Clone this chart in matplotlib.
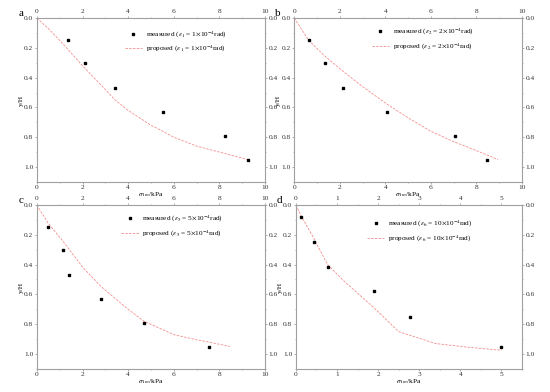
import matplotlib
matplotlib.use("Agg")
import matplotlib.pyplot as plt
from matplotlib.ticker import MultipleLocator

plt.rcParams['font.family'] = ['Liberation Serif', 'DejaVu Serif']
plt.rcParams['mathtext.fontset'] = 'stix'

# measured data
a_meas_x = [1.36, 2.12, 3.43, 5.52, 8.23, 9.25]
a_meas_y = [0.15, 0.30, 0.47, 0.63, 0.79, 0.95]
b_meas_x = [0.64, 1.33, 2.16, 4.08, 7.05, 8.45]
b_meas_y = [0.15, 0.30, 0.47, 0.63, 0.79, 0.95]
c_meas_x = [0.51, 1.13, 1.41, 2.83, 4.69, 7.54]
c_meas_y = [0.15, 0.30, 0.47, 0.63, 0.79, 0.95]
d_meas_x = [0.12, 0.43, 0.77, 1.90, 2.77, 4.98]
d_meas_y = [0.08, 0.25, 0.415, 0.58, 0.75, 0.95]

# proposed curves
a_prop_x = [0, 0.5, 1.0, 1.36, 2.0, 3.0, 3.43, 4.0, 5.0, 5.52, 6.0, 7.0, 8.0, 8.5, 9.25]
a_prop_y = [0, 0.07, 0.15, 0.21, 0.32, 0.48, 0.55, 0.62, 0.72, 0.76, 0.80, 0.86, 0.90, 0.92, 0.95]
b_prop_x = [0, 0.64, 1.3, 2.08, 3.0, 4.0, 5.0, 6.0, 7.0, 8.0, 8.95]
b_prop_y = [0, 0.15, 0.25, 0.35, 0.46, 0.57, 0.67, 0.76, 0.83, 0.89, 0.95]
c_prop_x = [0, 0.51, 1.13, 2.02, 2.83, 4.0, 4.69, 6.0, 7.0, 7.54, 8.46]
c_prop_y = [0, 0.125, 0.24, 0.42, 0.55, 0.70, 0.78, 0.87, 0.905, 0.92, 0.95]
d_prop_x = [0, 0.12, 0.43, 0.77, 1.13, 1.90, 2.50, 3.40, 4.2, 5.0]
d_prop_y = [0, 0.07, 0.22, 0.40, 0.50, 0.69, 0.85, 0.93, 0.955, 0.975]

panels = [
    ('a', a_meas_x, a_meas_y, a_prop_x, a_prop_y, '1', '1', 10, 2,
     [0.067, 0.536, 0.415, 0.418], (0.385, 0.93), -0.06),
    ('b', b_meas_x, b_meas_y, b_prop_x, b_prop_y, '2', '2', 10, 2,
     [0.535, 0.536, 0.414, 0.418], (0.34, 0.945), -0.062),
    ('c', c_meas_x, c_meas_y, c_prop_x, c_prop_y, '5', '5', 10, 2,
     [0.067, 0.059, 0.415, 0.418], (0.37, 0.945), -0.06),
    ('d', d_meas_x, d_meas_y, d_prop_x, d_prop_y, '6', '10', 5.5, 1,
     [0.538, 0.059, 0.411, 0.418], (0.315, 0.915), -0.062),
]

fig = plt.figure(figsize=(5.5, 3.92), dpi=100)
gray = '#a0a0a0'
fs = 5.3
lfs = 5.2
for lab, mx, my, px, py, sub, val, xmax, step, rect, lpos, lx in panels:
    ax = fig.add_axes(rect)
    ax.plot(px, py, linestyle='--', color='#f27a7a', lw=0.6, alpha=0.85,
            dashes=(3, 1.5),
            label=r'proposed ($\varepsilon_{%s}$ = %s$\times$10$^{-4}$rad)' % (sub, val))
    ax.plot(mx, my, linestyle='none', marker='s', ms=1.6, color='black',
            label=r'measured ($\varepsilon_{%s}$ = %s$\times$10$^{-4}$rad)' % (sub, val))
    ax.set_xlim(0, xmax)
    ax.set_ylim(1.1, 0)
    ax.xaxis.set_major_locator(MultipleLocator(step))
    ax.xaxis.set_minor_locator(MultipleLocator(step / 2))
    ax.yaxis.set_major_locator(MultipleLocator(0.2))
    ax.yaxis.set_minor_locator(MultipleLocator(0.1))
    ax.yaxis.set_major_formatter(plt.FuncFormatter(lambda v, p: '%.1f' % v))
    ax.tick_params(which='both', top=True, right=True, labeltop=True, labelright=True,
                   direction='out', color=gray, labelsize=fs, labelcolor='#333333',
                   pad=1.0)
    ax.tick_params(which='major', length=1.6, width=0.6)
    ax.tick_params(which='minor', length=1.0, width=0.5)
    for s in ax.spines.values():
        s.set_color(gray)
        s.set_linewidth(0.8)
    ax.set_xlabel(r'$\sigma_{1m}$/kPa', fontsize=fs, labelpad=-0.5)
    ax.set_ylabel('y/H', fontsize=fs, labelpad=0.3)
    h, l = ax.get_legend_handles_labels()
    ax.legend(h[::-1], l[::-1], loc='upper left', bbox_to_anchor=lpos,
              frameon=False, fontsize=lfs, handlelength=2.4, handletextpad=0.5,
              labelspacing=0.6, borderaxespad=0, borderpad=0)
    ax.text(lx, 1.03, lab, transform=ax.transAxes, fontsize=8, ha='right', va='center')

fig.savefig('out.png', dpi=100)
